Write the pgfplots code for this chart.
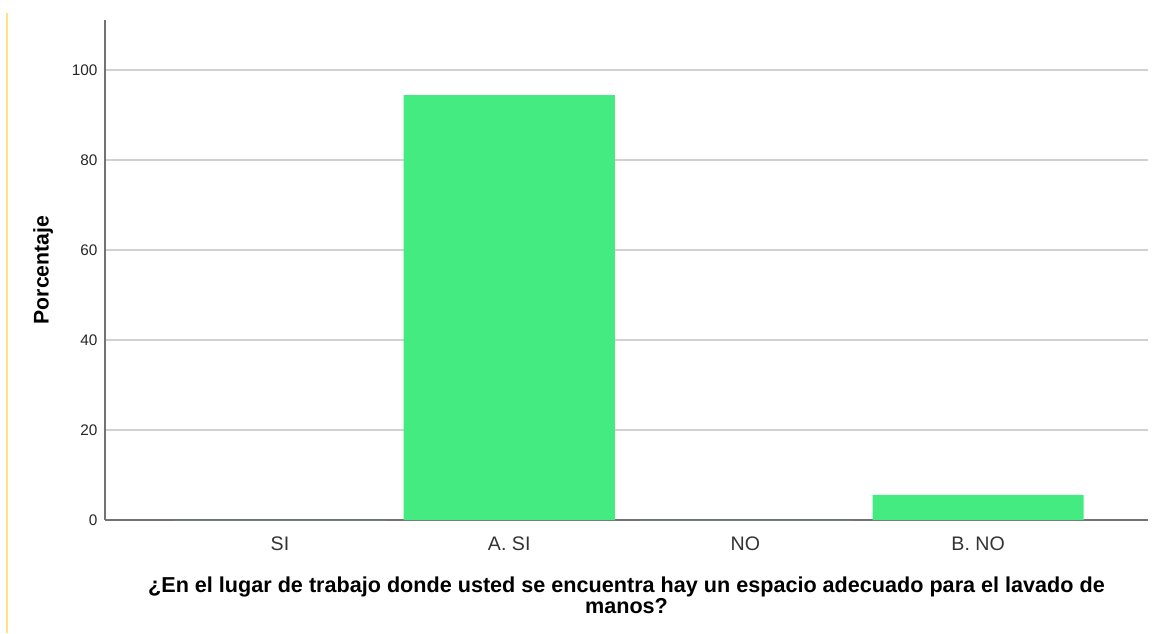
\documentclass[border=0pt]{standalone}
\usepackage{pgfplots}
\pgfplotsset{compat=1.18}
\usepackage{fontspec}
\setmainfont{Liberation Sans}
\definecolor{barg}{RGB}{68,235,128}
\definecolor{yel}{RGB}{255,226,130}
\begin{document}
\begin{tikzpicture}
\path[use as bounding box] (0,0) rectangle (864pt,474.75pt);
\draw[color=yel, line width=1.5pt] (5.6pt,0) -- (5.6pt,465pt);
\begin{axis}[
 at={(78.75pt,84.75pt)}, anchor=south west,
 scale only axis, width=782.25pt, height=375pt,
 xmin=-0.752, xmax=3.73, ymin=0, ymax=111.1,
 ybar, bar width=0.907, bar shift=0pt,
 xtick={0,0.985,2,3}, xticklabels={SI, A. SI, NO, B. NO},
 ytick={0,20,40,60,80,100},
 ymajorgrids, grid style={color=black!18, line width=1.1pt},
 axis x line=bottom, axis y line=left,
 axis line style={-, draw=black!55, line width=1.1pt},
 major tick length=0pt,
 /pgf/number format/assume math mode=true,
 yticklabel style={font=\fontsize{11.5}{13}\selectfont, text=black!85, anchor=east, inner sep=0pt, xshift=-5.5pt},
 xticklabel style={font=\fontsize{14.7}{16}\selectfont, text=black!80, anchor=base, inner sep=0pt, yshift=-22.5pt},
 xlabel={¿En el lugar de trabajo donde usted se encuentra hay un espacio adecuado para el lavado de\\manos?},
 xlabel style={at={(axis description cs:0.5,-0.114)}, anchor=north, align=center, inner sep=0pt, font=\bfseries\fontsize{16.2}{12.75}\selectfont},
 ylabel={Porcentaje},
 ylabel style={at={(axis description cs:-0.0594,0.5)}, anchor=center, inner sep=0pt, font=\bfseries\fontsize{15.9}{17}\selectfont},
]
\addplot[fill=barg, draw=none] coordinates {(0,0) (0.985,94.4) (2,0) (3,5.6)};
\end{axis}
\end{tikzpicture}
\end{document}
